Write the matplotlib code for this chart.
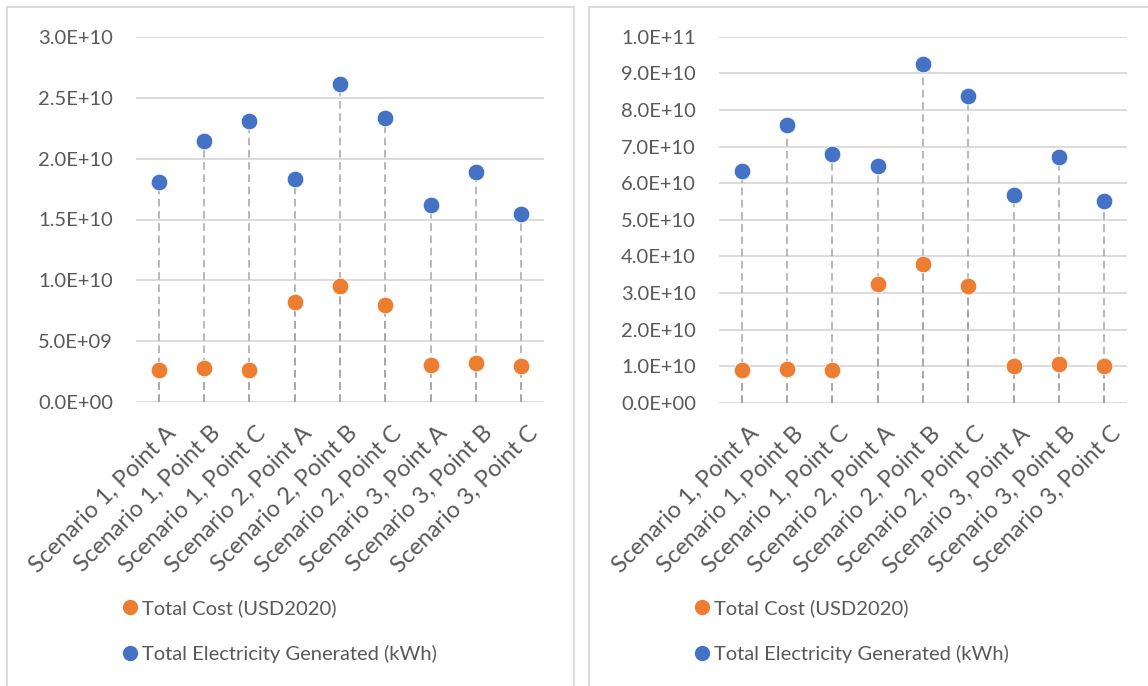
import matplotlib
matplotlib.use("Agg")
import matplotlib.pyplot as plt
import matplotlib.transforms as mtransforms
from matplotlib.lines import Line2D
from matplotlib.ticker import FuncFormatter, MultipleLocator
import numpy as np

plt.rcParams['font.family'] = ['Lato', 'DejaVu Sans']

# categories shared by both panels
points = ["Scenario 1, Point A", "Scenario 1, Point B", "Scenario 1, Point C",
          "Scenario 2, Point A", "Scenario 2, Point B", "Scenario 2, Point C",
          "Scenario 3, Point A", "Scenario 3, Point B", "Scenario 3, Point C"]

# left panel
cost_left = [2.66e9, 2.80e9, 2.66e9, 8.22e9, 9.56e9, 7.94e9, 3.01e9, 3.17e9, 2.99e9]
elec_left = [1.806e10, 2.143e10, 2.313e10, 1.834e10, 2.612e10, 2.335e10, 1.617e10, 1.888e10, 1.543e10]

# right panel
cost_right = [0.885e10, 0.93e10, 0.90e10, 3.25e10, 3.79e10, 3.18e10, 0.995e10, 1.06e10, 0.995e10]
elec_right = [6.34e10, 7.60e10, 6.80e10, 6.48e10, 9.25e10, 8.37e10, 5.67e10, 6.70e10, 5.50e10]

cost_label = "Total Cost (USD2020)"
elec_label = "Total Electricity Generated (kWh)"

ORANGE = "#ED7D31"
BLUE = "#4472C4"
TEXT = "#595959"
GRID = "#D9D9D9"
DROP = "#A5A5A5"

W, H = 1148, 686
fig = plt.figure(figsize=(W / 100, H / 100), dpi=100)


def px_box(x0, y_top, x1, y_bottom):
    return [x0 / W, 1 - y_bottom / H, (x1 - x0) / W, (y_bottom - y_top) / H]


# panel frames
frame_kw = dict(color=GRID, lw=1.3, transform=fig.transFigure)
fig.add_artist(Line2D([7 / W, 7 / W], [0, 1 - 7 / H], **frame_kw))
fig.add_artist(Line2D([7 / W, 574 / W], [1 - 7 / H, 1 - 7 / H], **frame_kw))
fig.add_artist(Line2D([574 / W, 574 / W], [0, 1 - 7 / H], **frame_kw))
fig.add_artist(Line2D([589 / W, 589 / W], [0, 1 - 7 / H], **frame_kw))
fig.add_artist(Line2D([589 / W, 1], [1 - 7 / H, 1 - 7 / H], **frame_kw))


def draw_panel(box, cost, elec, ymax, step, legend_xy):
    ax = fig.add_axes(box)
    x = np.arange(len(points))
    for s in ax.spines.values():
        s.set_visible(False)
    ax.set_xlim(-0.5, len(points) - 0.5)
    ax.set_ylim(0, ymax)
    ax.yaxis.set_major_locator(MultipleLocator(step))
    ax.yaxis.set_major_formatter(FuncFormatter(lambda v, p: f"{v:.1E}"))
    ax.grid(axis='y', color=GRID, lw=1.3, zorder=0)
    ax.set_axisbelow(True)

    # drop lines from each point to the axis
    for vals in (cost, elec):
        ax.vlines(x, 0, vals, colors=DROP, linestyles=(0, (5, 3)), lw=1.1, zorder=1)

    ax.plot(x, cost, 'o', color=ORANGE, ms=12, mec='white', mew=0.6, zorder=3)
    ax.plot(x, elec, 'o', color=BLUE, ms=12, mec='white', mew=0.6, zorder=3)

    ax.tick_params(axis='y', length=0, pad=16.5, labelsize=14.5, labelcolor=TEXT)
    ax.tick_params(axis='x', length=0, pad=14.5, labelsize=17, labelcolor=TEXT)
    ax.set_xticks(x)
    ax.set_xticklabels(points, rotation=45, ha='right', va='top', rotation_mode='anchor')
    shift = mtransforms.ScaledTranslation(6 / 100, 0, fig.dpi_scale_trans)
    for lab in ax.get_xticklabels():
        lab.set_transform(lab.get_transform() + shift)

    handles = [Line2D([], [], ls='none', marker='o', ms=10, color=ORANGE),
               Line2D([], [], ls='none', marker='o', ms=10, color=BLUE)]
    ax.legend(handles, [cost_label, elec_label], loc='upper left',
              bbox_to_anchor=(legend_xy[0] / W, 1 - legend_xy[1] / H),
              bbox_transform=fig.transFigure, frameon=False,
              fontsize=14.5, labelcolor=TEXT, handlelength=0.6,
              handletextpad=0.3, labelspacing=1.4, borderpad=0,
              borderaxespad=0)
    return ax


draw_panel(px_box(136, 37, 544, 402), cost_left, elec_left, 3.0e10, 0.5e10, (124, 599))
draw_panel(px_box(719, 36.7, 1127, 402.7), cost_right, elec_right, 1.0e11, 1.0e10, (696, 599))

fig.savefig("out.png", dpi=100, facecolor='white')
